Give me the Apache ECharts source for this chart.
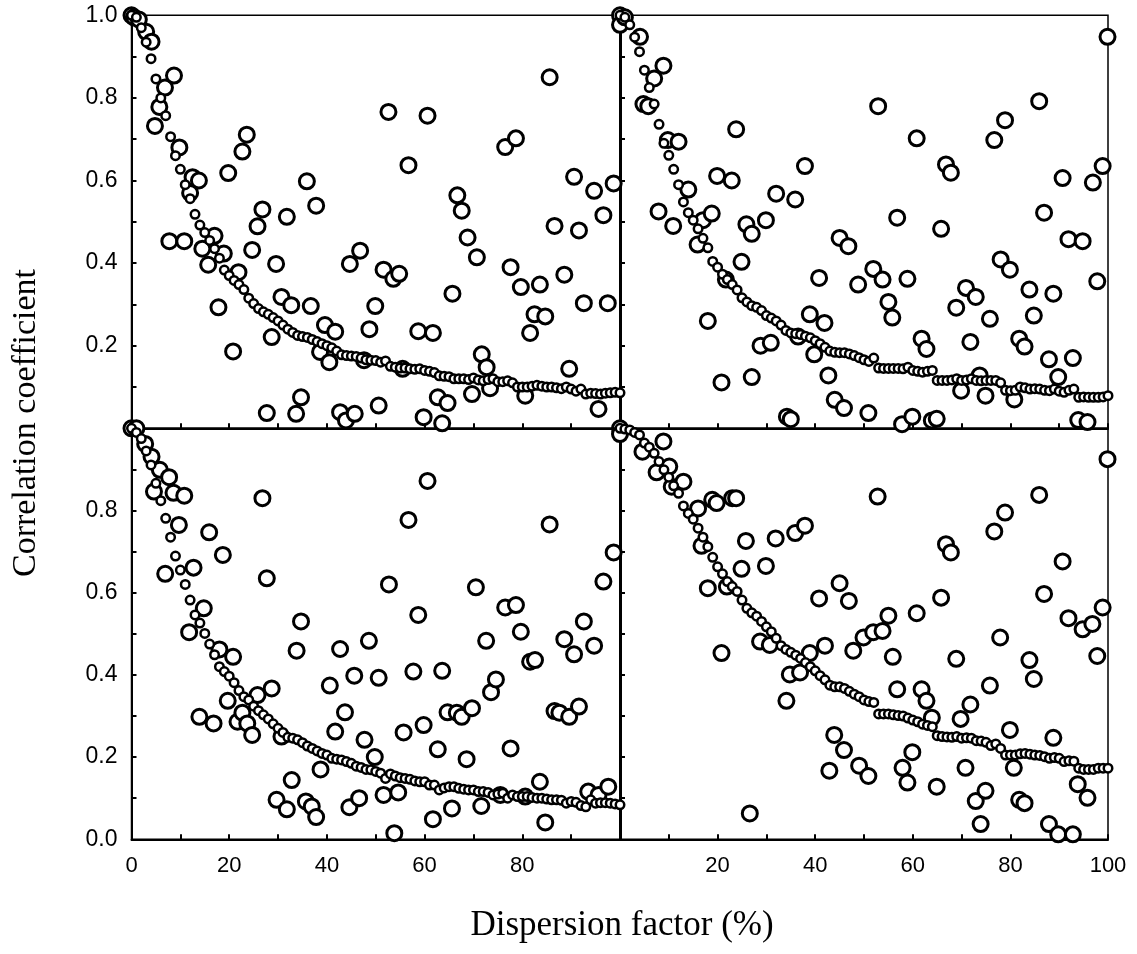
<!DOCTYPE html>
<html><head><meta charset="utf-8">
<script src="https://cdn.jsdelivr.net/npm/echarts/dist/echarts.min.js"></script>
<style>html,body{margin:0;padding:0;background:#fff}#c{width:1137px;height:954px}</style>
</head><body><div id="c"></div>
<script>
// Dispersion factor (%) of the curve points: 0..100, one per percent
const dispersion = [0,1,2,3,4,5,6,7,8,9,10,11,12,13,14,15,16,17,18,19,20,21,22,23,24,25,26,27,28,29,30,31,32,33,34,35,36,37,38,39,40,41,42,43,44,45,46,47,48,49,50,51,52,53,54,55,56,57,58,59,60,61,62,63,64,65,66,67,68,69,70,71,72,73,74,75,76,77,78,79,80,81,82,83,84,85,86,87,88,89,90,91,92,93,94,95,96,97,98,99,100];

// Small circles (mean curve) per panel
const tlCurve = [1.0,0.995,0.97,0.935,0.895,0.846,0.80,0.757,0.706,0.66,0.627,0.59,0.556,0.518,0.492,0.474,0.455,0.435,0.412,0.383,0.37,0.358,0.348,0.336,0.315,0.302,0.29,0.282,0.276,0.268,0.26,0.25,0.24,0.232,0.225,0.222,0.22,0.215,0.21,0.205,0.2,0.195,0.187,0.178,0.176,0.175,0.174,0.17,0.166,0.165,0.164,0.16,0.163,0.15,0.148,0.146,0.146,0.144,0.143,0.144,0.14,0.138,0.135,0.127,0.126,0.125,0.12,0.12,0.12,0.118,0.122,0.117,0.115,0.118,0.12,0.113,0.113,0.115,0.11,0.1,0.1,0.1,0.102,0.104,0.102,0.1,0.1,0.098,0.096,0.1,0.095,0.09,0.095,0.083,0.085,0.084,0.083,0.085,0.086,0.087,0.086];
const trCurve = [1.0,0.995,0.977,0.947,0.912,0.867,0.825,0.785,0.736,0.69,0.661,0.627,0.59,0.548,0.522,0.504,0.483,0.46,0.437,0.404,0.39,0.373,0.36,0.348,0.335,0.316,0.306,0.297,0.293,0.285,0.273,0.267,0.26,0.25,0.237,0.231,0.229,0.227,0.223,0.219,0.212,0.205,0.196,0.187,0.184,0.183,0.183,0.18,0.176,0.171,0.166,0.162,0.17,0.146,0.145,0.145,0.145,0.145,0.144,0.148,0.14,0.138,0.136,0.138,0.14,0.116,0.116,0.116,0.117,0.12,0.116,0.117,0.12,0.116,0.115,0.116,0.116,0.116,0.11,0.092,0.091,0.092,0.1,0.098,0.095,0.096,0.095,0.092,0.091,0.095,0.09,0.087,0.092,0.095,0.075,0.076,0.075,0.075,0.075,0.076,0.079];
const blCurve = [1.0,0.99,0.975,0.945,0.911,0.866,0.824,0.781,0.735,0.689,0.655,0.62,0.582,0.546,0.526,0.501,0.475,0.449,0.42,0.408,0.397,0.381,0.362,0.347,0.339,0.324,0.313,0.303,0.293,0.281,0.27,0.26,0.248,0.246,0.242,0.235,0.227,0.221,0.215,0.209,0.205,0.197,0.195,0.193,0.189,0.185,0.178,0.175,0.17,0.169,0.165,0.161,0.148,0.159,0.154,0.15,0.148,0.146,0.142,0.14,0.14,0.132,0.132,0.12,0.125,0.128,0.128,0.124,0.122,0.12,0.12,0.116,0.116,0.114,0.108,0.11,0.112,0.1,0.108,0.104,0.104,0.104,0.102,0.1,0.1,0.098,0.096,0.096,0.095,0.088,0.092,0.09,0.082,0.079,0.096,0.088,0.089,0.089,0.088,0.086,0.084];
const brCurve = [1.0,0.998,0.996,0.99,0.984,0.964,0.954,0.939,0.919,0.899,0.881,0.86,0.842,0.811,0.793,0.779,0.757,0.735,0.712,0.686,0.663,0.646,0.627,0.615,0.603,0.582,0.562,0.551,0.543,0.53,0.517,0.505,0.489,0.471,0.462,0.455,0.448,0.44,0.43,0.42,0.41,0.398,0.388,0.375,0.371,0.371,0.367,0.36,0.353,0.347,0.339,0.335,0.333,0.305,0.305,0.305,0.303,0.301,0.3,0.295,0.29,0.286,0.28,0.277,0.274,0.252,0.25,0.249,0.248,0.25,0.246,0.247,0.246,0.24,0.239,0.236,0.228,0.232,0.221,0.205,0.205,0.205,0.208,0.209,0.207,0.205,0.204,0.201,0.197,0.199,0.197,0.189,0.191,0.19,0.173,0.17,0.17,0.17,0.173,0.173,0.173];

// Large circles (individual correlations) per panel: [dispersion %, r]
const tlPoints = [[0,1.0],[0.5,0.995],[1.5,0.99],[3,0.96],[4.1,0.936],[4.8,0.732],[5.7,0.778],[6.85,0.825],[8.7,0.854],[9.8,0.68],[12,0.57],[12.5,0.608],[13.8,0.6],[7.75,0.453],[10.8,0.453],[14.5,0.435],[15.7,0.396],[17,0.466],[17.8,0.293],[18.9,0.423],[19.8,0.618],[20.8,0.186],[21.9,0.378],[22.7,0.67],[23.6,0.711],[24.7,0.432],[25.8,0.489],[26.8,0.53],[27.7,0.037],[28.7,0.221],[29.6,0.398],[30.7,0.318],[31.8,0.512],[32.7,0.298],[33.7,0.035],[34.7,0.075],[35.9,0.598],[36.7,0.296],[37.8,0.539],[38.6,0.185],[39.6,0.25],[40.5,0.16],[41.7,0.234],[42.7,0.039],[43.9,0.019],[44.7,0.398],[45.7,0.035],[46.8,0.43],[47.6,0.165],[48.7,0.24],[49.9,0.296],[50.6,0.055],[51.6,0.384],[52.6,0.766],[53.6,0.362],[54.8,0.374],[55.5,0.144],[56.7,0.637],[58.7,0.235],[59.8,0.027],[60.6,0.757],[61.7,0.231],[62.7,0.075],[63.6,0.012],[64.7,0.061],[65.7,0.326],[66.7,0.564],[67.6,0.527],[68.8,0.462],[69.7,0.083],[70.7,0.414],[71.7,0.179],[72.7,0.148],[73.4,0.097],[76.5,0.681],[77.6,0.39],[78.7,0.702],[79.7,0.342],[80.6,0.079],[81.6,0.231],[82.5,0.276],[83.6,0.348],[84.7,0.271],[85.6,0.85],[86.6,0.49],[88.6,0.372],[89.6,0.144],[90.6,0.609],[91.6,0.479],[92.6,0.303],[94.7,0.575],[95.6,0.047],[96.6,0.516],[97.5,0.303],[98.7,0.593]];
const trPoints = [[0,1.0],[0,0.977],[1,0.995],[4.1,0.948],[4.8,0.785],[5.8,0.78],[7,0.847],[7.9,0.525],[8.9,0.878],[9.8,0.698],[10.9,0.49],[12,0.694],[14,0.578],[15.9,0.445],[17,0.504],[18,0.26],[18.8,0.52],[19.9,0.611],[20.8,0.111],[21.7,0.36],[22.9,0.6],[23.8,0.724],[24.9,0.403],[25.9,0.494],[27,0.471],[27,0.124],[28.8,0.2],[29.9,0.504],[30.9,0.207],[32,0.568],[34.2,0.028],[35,0.022],[35.9,0.554],[36.5,0.222],[37.9,0.635],[38.9,0.276],[39.8,0.179],[40.8,0.364],[41.9,0.255],[42.7,0.128],[44,0.069],[45,0.461],[45.9,0.049],[46.8,0.441],[48.8,0.348],[50.9,0.037],[51.9,0.386],[52.9,0.78],[53.8,0.36],[55,0.306],[55.8,0.268],[56.8,0.51],[57.8,0.01],[58.9,0.362],[59.9,0.028],[60.8,0.702],[61.8,0.217],[62.8,0.192],[63.9,0.019],[64.9,0.023],[65.8,0.483],[66.8,0.639],[67.8,0.619],[68.9,0.292],[69.9,0.091],[70.9,0.34],[71.8,0.209],[72.9,0.318],[73.7,0.128],[74.9,0.079],[75.8,0.265],[76.7,0.698],[78,0.409],[78.9,0.746],[79.9,0.384],[80.8,0.07],[81.8,0.217],[82.9,0.198],[83.9,0.336],[84.8,0.273],[85.9,0.792],[86.9,0.522],[87.9,0.167],[88.8,0.326],[89.8,0.124],[90.7,0.606],[91.9,0.458],[92.8,0.17],[93.9,0.02],[94.8,0.453],[95.8,0.015],[96.9,0.595],[97.8,0.356],[98.9,0.635],[99.9,0.948]];
const blPoints = [[0,1.0],[1,1.0],[2.8,0.962],[4.1,0.931],[4.6,0.846],[5.8,0.899],[6.9,0.646],[7.7,0.881],[8.6,0.843],[9.7,0.765],[10.8,0.836],[11.8,0.504],[12.7,0.661],[13.9,0.298],[14.8,0.562],[15.9,0.747],[16.8,0.282],[18,0.462],[18.7,0.692],[19.7,0.337],[20.8,0.444],[21.7,0.286],[22.7,0.308],[23.7,0.282],[24.7,0.254],[25.8,0.351],[26.8,0.83],[27.7,0.635],[28.7,0.367],[29.7,0.096],[30.7,0.25],[31.8,0.073],[32.8,0.144],[33.8,0.459],[34.7,0.53],[35.7,0.092],[36.9,0.08],[37.8,0.054],[38.7,0.17],[40.6,0.374],[41.7,0.262],[42.7,0.463],[43.7,0.309],[44.6,0.078],[45.6,0.398],[46.6,0.1],[47.7,0.242],[48.6,0.483],[49.8,0.2],[50.6,0.393],[51.6,0.108],[52.7,0.62],[53.8,0.015],[54.6,0.114],[55.7,0.26],[56.7,0.777],[57.7,0.408],[58.7,0.546],[59.8,0.278],[60.6,0.872],[61.7,0.049],[62.7,0.219],[63.6,0.41],[64.7,0.309],[65.6,0.075],[66.6,0.308],[67.6,0.298],[68.6,0.195],[69.7,0.319],[70.5,0.613],[71.6,0.081],[72.6,0.483],[73.6,0.358],[74.6,0.389],[75.5,0.108],[76.5,0.564],[77.6,0.221],[78.7,0.57],[79.7,0.505],[80.6,0.104],[81.6,0.432],[82.6,0.436],[83.6,0.14],[84.7,0.041],[85.6,0.766],[86.6,0.312],[87.6,0.308],[88.6,0.487],[89.6,0.298],[90.6,0.45],[91.6,0.323],[92.6,0.53],[93.5,0.116],[94.7,0.471],[95.6,0.108],[96.6,0.627],[97.6,0.128],[98.7,0.698]];
const brPoints = [[0,1.0],[0,0.986],[4.6,0.943],[7.5,0.893],[8.9,0.968],[10.1,0.907],[10.6,0.858],[13,0.87],[16,0.805],[16.7,0.714],[18,0.611],[18.9,0.826],[19.8,0.818],[20.8,0.453],[21.9,0.615],[23,0.83],[23.8,0.83],[24.9,0.658],[25.8,0.726],[26.6,0.063],[28.7,0.481],[29.9,0.665],[30.7,0.473],[31.9,0.732],[34.1,0.337],[34.8,0.401],[35.9,0.745],[36.9,0.406],[37.9,0.763],[38.9,0.453],[40.8,0.586],[42,0.471],[42.9,0.167],[43.9,0.254],[45,0.623],[45.9,0.217],[46.9,0.58],[47.8,0.459],[49,0.179],[49.9,0.491],[50.9,0.154],[51.9,0.504],[52.8,0.834],[53.8,0.507],[55,0.544],[55.9,0.444],[56.8,0.365],[57.9,0.174],[58.9,0.138],[59.9,0.212],[60.8,0.55],[61.8,0.365],[62.8,0.337],[63.9,0.296],[64.9,0.128],[65.8,0.588],[66.8,0.718],[67.8,0.698],[68.9,0.439],[69.8,0.293],[70.8,0.174],[71.8,0.328],[72.9,0.093],[73.9,0.037],[74.9,0.118],[75.8,0.374],[76.7,0.749],[77.9,0.491],[78.9,0.795],[79.9,0.266],[80.7,0.174],[81.8,0.096],[82.9,0.088],[83.9,0.436],[84.8,0.39],[85.9,0.838],[86.9,0.597],[87.9,0.037],[88.8,0.247],[89.8,0.012],[90.7,0.676],[91.9,0.538],[92.8,0.012],[93.8,0.134],[94.8,0.511],[95.8,0.101],[96.8,0.524],[97.8,0.446],[98.9,0.564],[99.9,0.925]];

const xLabelsBL = [0,20,40,60,80];
const xLabelsBR = [20,40,60,80,100];
const yLabelsTL = [0.2,0.4,0.6,0.8,1.0];
const yLabelsBL = [0.0,0.2,0.4,0.6,0.8];
const xTitle = 'Dispersion factor (%)';
const yTitle = 'Correlation coefficient';

const chart = echarts.init(document.getElementById('c'), null, {renderer:'canvas'});

const L = 131.5, M = 620, R = 1108, T = 15.3, H = 428.3, B = 839.3;
const panels = [
  {curve: tlCurve, pts: tlPoints, grid:{left:L, top:T, width:M-L, height:H-T}, xl:null, yl:yLabelsTL, right:false},
  {curve: trCurve, pts: trPoints, grid:{left:M, top:T, width:R-M, height:H-T}, xl:null, yl:null, right:true},
  {curve: blCurve, pts: blPoints, grid:{left:L, top:H, width:M-L, height:B-H}, xl:xLabelsBL, yl:yLabelsBL, right:false},
  {curve: brCurve, pts: brPoints, grid:{left:M, top:H, width:R-M, height:B-H}, xl:xLabelsBR, yl:null, right:true}
];

const grids=[], xAxes=[], yAxes=[], series=[];
const font = 'Liberation Sans';
panels.forEach((p,i)=>{
  grids.push(Object.assign({show:true, borderColor:'#000', borderWidth:1.5, backgroundColor:'transparent', containLabel:false}, p.grid));
  xAxes.push({type:'value', gridIndex:i, min:0, max:100, interval:10,
    axisLine:{show:true, onZero:false, lineStyle:{color:'#000', width:2}},
    axisTick:{show:true, inside:true, length:5, lineStyle:{color:'#000', width:2}},
    splitLine:{show:false},
    axisLabel: p.xl ? {show:true, margin:16, color:'#000', fontFamily:font, fontSize:22, showMinLabel:true, showMaxLabel:true,
        formatter: v => { const k=Math.round(v); return p.xl.indexOf(k)>=0 ? String(k) : ''; }} : {show:false}
  });
  yAxes.push({type:'value', gridIndex:i, min:0, max:1, interval:0.1,
    axisLine:{show:true, onZero:false, lineStyle:{color:'#000', width:p.right?3:2}},
    axisTick:{show:true, inside:true, length:5, lineStyle:{color:'#000', width:2}},
    splitLine:{show:false},
    axisLabel: p.yl ? {show:true, margin:14, color:'#000', fontFamily:font, fontSize:23, showMinLabel:true, showMaxLabel:true,
        formatter: v => { const k=Math.round(v*10); return p.yl.some(t=>Math.round(t*10)===k) ? (k/10).toFixed(1) : ''; }} : {show:false}
  });
  series.push({type:'scatter', xAxisIndex:i, yAxisIndex:i, clip:false, symbol:'circle', symbolSize:15,
    itemStyle:{color:'#fff', borderColor:'#000', borderWidth:3, opacity:1},
    emphasis:{disabled:true}, animation:false, data:p.pts});
  series.push({type:'scatter', xAxisIndex:i, yAxisIndex:i, clip:false, symbol:'circle', symbolSize:8.5,
    itemStyle:{color:'#fff', borderColor:'#000', borderWidth:2.5, opacity:1},
    emphasis:{disabled:true}, animation:false, data:dispersion.map((d,j)=>[d,p.curve[j]])});
});

chart.setOption({
  animation:false,
  backgroundColor:'#fff',
  grid:grids, xAxis:xAxes, yAxis:yAxes, series:series,
  graphic:[
    {type:'text', x:622, y:926, style:{text:xTitle, fill:'#000', font:'35px "Liberation Serif", "Times New Roman", serif', align:'center', verticalAlign:'middle'}},
    {type:'text', x:26, y:423, rotation:Math.PI/2, style:{text:yTitle, fill:'#000', font:'34px "Liberation Serif", "Times New Roman", serif', align:'center', verticalAlign:'middle'}}
  ]
});
</script></body></html>
